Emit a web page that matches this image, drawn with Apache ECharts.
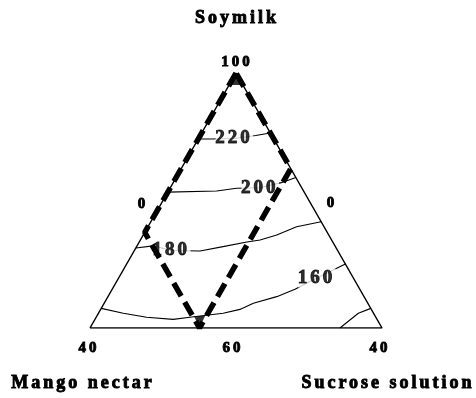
<!DOCTYPE html>
<html>
<head>
<meta charset="utf-8">
<script src="https://cdn.jsdelivr.net/npm/echarts@6/dist/echarts.min.js"></script>
<style>
  html, body { margin: 0; padding: 0; background: #fff; }
  #chart { width: 476px; height: 398px; }
</style>
</head>
<body>
<div id="chart"></div>
<script>
// Mixture points are [soymilk, sucrose solution] in pseudo-component %;
// mango nectar is the remainder to 100.
const contourLevels = [220, 200, 180, 160, 140];
const contour220 = [[74.1, 0], [74.1, 4.4], [74.3, 12.3], [75.5, 19], [76.5, 23.5]];
const contour200 = [[53.3, 0], [53.7, 16.5], [54.8, 22.8], [55.0, 30.8], [57.0, 37.0], [59.0, 41.0]];
const contour180 = [[31.4, 0], [32.2, 5.5], [30.4, 12.8], [30.2, 22.6], [31.9, 29.6], [33.7, 36.9],
                    [34.5, 41.0], [36.5, 45.7], [39.7, 50.9], [41.7, 58.3]];
const contour160 = [[7.7, 0], [5.8, 8.5], [4.2, 17.3], [3.4, 26.8], [4.2, 32.1], [5.8, 42.7],
                    [7.3, 47.7], [9.7, 51.1], [12.3, 57.8], [15.2, 62.6], [19.6, 67.9], [25.1, 74.9]];
const contour140 = [[0, 85.6], [5.8, 89.0], [7.7, 92.3]];
const contourLines = [contour220, contour200, contour180, contour160, contour140];
// vertex of each contour that carries its level label (null = unlabelled)
const labelVertex = [2, 3, 2, 10, null];

// experimental region (dashed) and the simplex outline
const regionVertices = [[100, 0], [37.5, 0], [0, 37.5], [62.5, 37.5], [100, 0]];
const simplexVertices = [[0, 0], [100, 0], [0, 100], [0, 0]];

const componentNames = ['Soymilk', 'Mango nectar', 'Sucrose solution'];
const tickLabels = ['100', '0', '0', '40', '60', '40'];

// ternary composition -> plane (x across the base, y up to the soymilk apex)
function toPlane(p) { return [p[1] + p[0] / 2, p[0]]; }

const FONT = 'Liberation Serif';

// spaced-out lettering for every text drawn on the canvas
const ctxProto = CanvasRenderingContext2D.prototype;
['fillText', 'strokeText'].forEach(fn => {
  const base = ctxProto[fn];
  ctxProto[fn] = function () {
    this.letterSpacing = '3px';
    return base.apply(this, arguments);
  };
});

// heavy black lettering
const INK = { color: '#000', textBorderColor: '#000', textBorderWidth: 0.9 };

const series = [];

series.push({
  type: 'line', name: 'simplex', data: simplexVertices.map(toPlane),
  symbol: 'none', silent: true, z: 2,
  lineStyle: { color: '#000', width: 1.5 }
});

contourLines.forEach((pts, i) => {
  series.push({
    type: 'line', name: 'level ' + contourLevels[i], data: pts.map(toPlane),
    symbol: 'none', silent: true, z: 3,
    lineStyle: { color: '#000', width: 1.1 }
  });
});

series.push({
  type: 'line', name: 'region', data: regionVertices.map(toPlane),
  symbol: 'none', silent: true, z: 5,
  lineStyle: { color: '#000', width: 5.5, type: [15, 7], cap: 'butt' }
});

// arrow heads at the top and bottom corners of the region
series.push({
  type: 'scatter', silent: true, z: 6,
  data: [
    { value: toPlane(regionVertices[0]), symbolRotate: 0, symbolOffset: [0, 6] },
    { value: toPlane(regionVertices[2]), symbolRotate: 180, symbolOffset: [0, -6] }
  ],
  symbol: 'triangle', symbolSize: [11, 12],
  itemStyle: { color: '#000' }
});

// level labels sitting on their contours
series.push({
  type: 'scatter', silent: true, z: 4, symbolSize: 0,
  data: contourLines.map((pts, i) => labelVertex[i] === null ? null : {
    value: toPlane(pts[labelVertex[i]]),
    name: String(contourLevels[i])
  }).filter(Boolean),
  label: Object.assign({
    show: true, position: 'inside', formatter: '{b}',
    fontFamily: FONT, fontWeight: 'bold', fontSize: 19,
    backgroundColor: '#fff', padding: [0, 5, 0, 4]
  }, INK)
});

function txt(text, x, y, size) {
  return {
    type: 'text', x: x, y: y, silent: true,
    style: {
      text: text, fill: '#000', stroke: INK.textBorderColor, lineWidth: INK.textBorderWidth,
      fontFamily: FONT, fontWeight: 'bold', fontSize: size,
      align: 'center', verticalAlign: 'middle'
    }
  };
}

const chart = echarts.init(document.getElementById('chart'), null, { renderer: 'canvas' });
chart.setOption({
  animation: false,
  backgroundColor: '#fff',
  grid: { left: 90, top: 73, width: 292, height: 255 },
  xAxis: { type: 'value', min: 0, max: 100, show: false },
  yAxis: { type: 'value', min: 0, max: 100, show: false },
  series: series,
  graphic: [
    txt(componentNames[0], 237, 18, 18),
    txt(componentNames[1], 83, 383, 18),
    txt(componentNames[2], 388, 383, 18),
    txt(tickLabels[0], 237, 62, 15),
    txt(tickLabels[1], 143, 204, 15),
    txt(tickLabels[2], 332, 203, 15),
    txt(tickLabels[3], 89, 348, 15),
    txt(tickLabels[4], 233, 348, 15),
    txt(tickLabels[5], 380, 348, 15)
  ]
});
</script>
</body>
</html>
